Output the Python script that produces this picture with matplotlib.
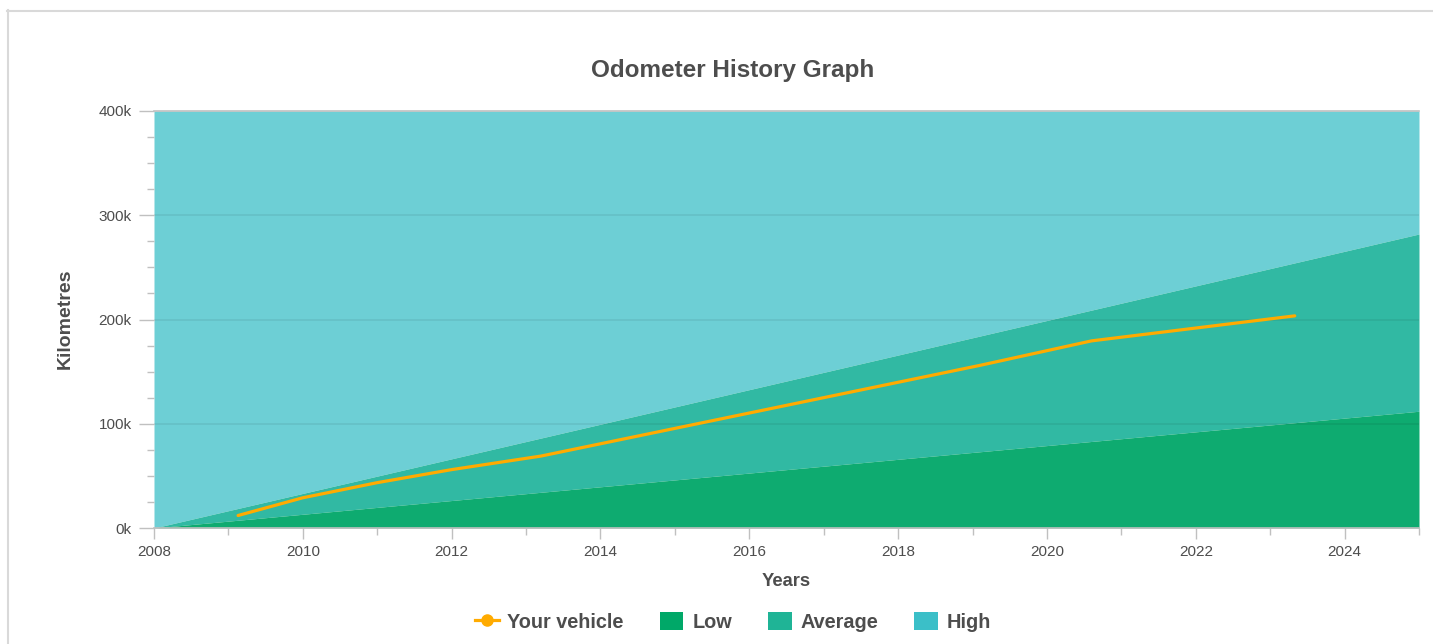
import matplotlib
matplotlib.use("Agg")
import matplotlib.pyplot as plt
from matplotlib.lines import Line2D
from matplotlib.patches import Patch
from matplotlib.ticker import MultipleLocator, FuncFormatter

plt.rcParams['font.family'] = ['Liberation Sans', 'DejaVu Sans']

# ---- data ----
band_years = [2008, 2025]
low_km = [0, 112000]
avg_km = [0, 282000]
high_km = [400000, 400000]

vehicle_years = [2009.13, 2010.0, 2011.0, 2012.0, 2013.2, 2019.1, 2020.6, 2023.33]
vehicle_km = [12000, 29000, 43500, 56000, 69000, 156000, 179500, 203500]

x_major = [2008, 2010, 2012, 2014, 2016, 2018, 2020, 2022, 2024]
y_major = [0, 100000, 200000, 300000, 400000]

title = "Odometer History Graph"
x_label = "Years"
y_label = "Kilometres"
legend_labels = ["Your vehicle", "Low", "Average", "High"]

# ---- styles ----
c_low, c_avg, c_high = "#0eab70", "#31b9a3", "#6dcfd5"
c_low_leg, c_avg_leg, c_high_leg = "#00a868", "#1fb496", "#3bbfc8"
c_line = "#ffab00"
c_text = "#4d4d4d"
c_axis = "#c0c0c0"

W, H = 1433, 644
fig = plt.figure(figsize=(W / 100, H / 100), dpi=100)
fig.patch.set_facecolor("white")

ax = fig.add_axes([154 / W, 1 - 528 / H, (1419 - 154) / W, (528 - 111) / H])
ax.set_xlim(2008, 2025)
ax.set_ylim(0, 400000)

ax.fill_between(band_years, avg_km, high_km, color=c_high, lw=0, zorder=1)
ax.fill_between(band_years, low_km, avg_km, color=c_avg, lw=0, zorder=2)
ax.fill_between(band_years, 0, low_km, color=c_low, lw=0, zorder=3)

for v in y_major[1:-1]:
    ax.axhline(v, color="black", alpha=0.08, lw=1.1, zorder=4)

ax.plot(vehicle_years, vehicle_km, color=c_line, lw=2.3, zorder=6,
        solid_capstyle="round", solid_joinstyle="round")

for s in ["left", "right"]:
    ax.spines[s].set_visible(False)
ax.spines["bottom"].set_color(c_axis)
ax.spines["bottom"].set_linewidth(1.2)
ax.spines["top"].set_color(c_axis)
ax.spines["top"].set_linewidth(1.2)
ax.spines["bottom"].set_zorder(7)
ax.spines["top"].set_zorder(7)

ax.set_xticks(x_major)
ax.xaxis.set_minor_locator(MultipleLocator(1))
ax.set_yticks(y_major)
ax.yaxis.set_minor_locator(MultipleLocator(25000))
ax.yaxis.set_major_formatter(FuncFormatter(lambda v, p: f"{v/1000:.0f}k"))

ax.tick_params(axis="x", which="major", length=8, width=1, color=c_axis,
               labelsize=11, labelcolor=c_text, pad=4)
ax.tick_params(axis="x", which="minor", length=5, width=1, color=c_axis)
ax.tick_params(axis="y", which="major", length=11, width=1, color=c_axis,
               labelsize=11, labelcolor=c_text, pad=5)
ax.tick_params(axis="y", which="minor", length=5, width=1, color=c_axis)

fig.text(733 / W, 1 - 70 / H, title, ha="center", va="center",
         fontsize=17.5, fontweight="bold", color=c_text)
fig.text(786 / W, 1 - 582 / H, x_label, ha="center", va="center",
         fontsize=13.2, fontweight="bold", color=c_text)
fig.text(65 / W, 1 - 319 / H, y_label, ha="center", va="center", rotation=90,
         fontsize=14, fontweight="bold", color=c_text)

handles = [
    Line2D([0], [0], color=c_line, lw=2.3, marker="o", markersize=8),
    Patch(facecolor=c_low_leg, edgecolor="none"),
    Patch(facecolor=c_avg_leg, edgecolor="none"),
    Patch(facecolor=c_high_leg, edgecolor="none"),
]
leg = fig.legend(handles, legend_labels, loc="center", ncol=4,
                 bbox_to_anchor=(733 / W, 1 - 622 / H), frameon=False,
                 prop={"size": 14.3, "weight": "bold"},
                 handlelength=1.2, handleheight=1.0, handletextpad=0.45,
                 columnspacing=1.8, labelcolor=c_text)

# outer border (light gray)
fig.add_artist(Line2D([7 / W, 1.0], [1 - 10.5 / H, 1 - 10.5 / H],
                      transform=fig.transFigure, color="#d9d9d9", lw=1.5))
fig.add_artist(Line2D([7.5 / W, 7.5 / W], [0, 1 - 10 / H],
                      transform=fig.transFigure, color="#d9d9d9", lw=1.5))

fig.savefig("out.png", dpi=100, facecolor="white")
